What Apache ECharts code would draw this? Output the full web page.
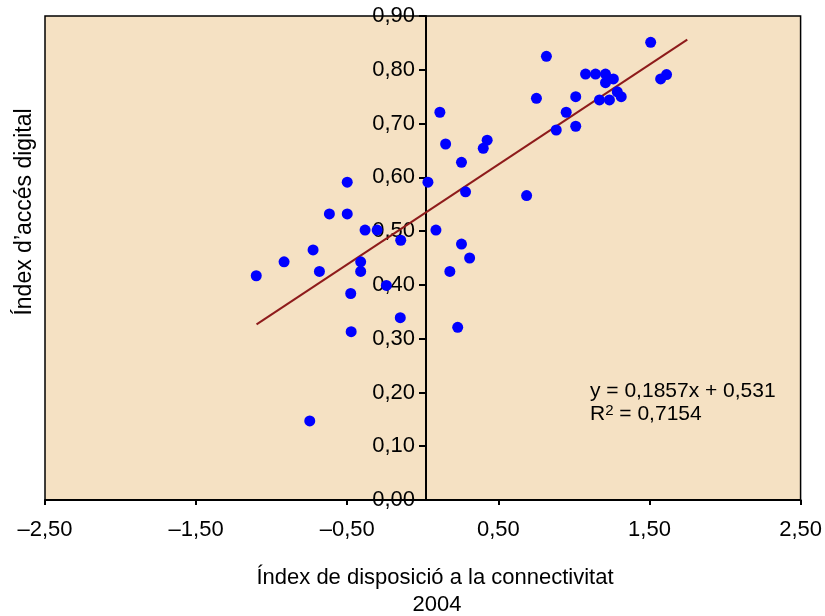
<!DOCTYPE html>
<html><head><meta charset="utf-8">
<script src="https://cdn.jsdelivr.net/npm/echarts@6/dist/echarts.min.js"></script>
<style>html,body{margin:0;padding:0;background:#fff}#c{width:825px;height:616px}</style>
</head><body><div id="c"></div>
<script>
// Data
const xValues = [-1.102,-0.918,-0.726,-0.684,-0.618,-0.500,-0.500,-0.382,-0.302,-0.411,-0.411,-0.477,-0.474,-0.241,-0.146,-0.149,
  0.034,0.087,0.179,0.231,-0.748,0.113,0.151,0.256,0.283,0.400,0.426,0.687,0.752,0.818,0.883,0.949,1.012,1.012,1.077,1.143,
  1.209,1.209,1.261,1.169,1.235,1.287,1.313,1.508,1.574,1.613,0.256,0.310];
const yValues = [0.417,0.443,0.465,0.425,0.532,0.591,0.532,0.502,0.502,0.443,0.425,0.384,0.313,0.399,0.483,0.339,
  0.591,0.502,0.425,0.321,0.147,0.721,0.662,0.628,0.573,0.654,0.669,0.566,0.747,0.825,0.688,0.721,0.695,0.750,0.792,0.792,
  0.792,0.776,0.783,0.744,0.744,0.759,0.750,0.851,0.783,0.791,0.476,0.450];
const trendSlope = 0.1857;
const trendIntercept = 0.531;
const trendXRange = [-1.10, 1.75];
const equationLabel = 'y = 0,1857x + 0,531';
const r2Label = '0,7154';
const xTitle = 'Índex de disposició a la connectivitat';
const yearLabel = '2004';
const yTitle = 'Índex d’accés digital';

const points = xValues.map((x, i) => [x, yValues[i]]);
const trend = trendXRange.map(x => [x, trendSlope * x + trendIntercept]);
const FONT = '"Liberation Sans", Arial, sans-serif';
const fmt = v => (v < 0 ? '–' : '') + Math.abs(v).toFixed(2).replace('.', ',');

const GRID_LEFT = 45, GRID_RIGHT = 18;
const plotWidth = 825 - GRID_LEFT - GRID_RIGHT;
// vertical axis crosses the horizontal axis at x = 0
const yAxisOffset = -(plotWidth * (0 - (-2.5)) / 5);

const chart = echarts.init(document.getElementById('c'), null, {renderer: 'canvas'});
chart.setOption({
  animation: false,
  backgroundColor: '#ffffff',
  textStyle: {fontFamily: FONT},
  grid: {left: GRID_LEFT, right: GRID_RIGHT, top: 16, bottom: 116, show: true,
    backgroundColor: '#F5E1C3', borderColor: '#000', borderWidth: 1.5},
  xAxis: {
    type: 'value', min: -2.5, max: 2.5, interval: 1,
    axisLine: {onZero: false, lineStyle: {color: '#000', width: 2}},
    axisTick: {show: true, inside: false, length: 5, lineStyle: {color: '#000', width: 2}},
    axisLabel: {formatter: fmt, color: '#000', fontSize: 22, fontFamily: FONT, margin: 19},
    splitLine: {show: false}
  },
  yAxis: {
    type: 'value', min: 0, max: 0.9, interval: 0.1, position: 'left', offset: yAxisOffset,
    axisLine: {onZero: false, lineStyle: {color: '#000', width: 2}},
    axisTick: {show: true, inside: false, length: 7, lineStyle: {color: '#000', width: 2}},
    axisLabel: {formatter: fmt, color: '#000', fontSize: 22, fontFamily: FONT, margin: 11},
    splitLine: {show: false}
  },
  series: [
    {type: 'line', data: trend, symbol: 'none', silent: true,
      lineStyle: {color: '#8E1B1B', width: 2}, z: 2},
    {type: 'scatter', data: points, symbol: 'circle', symbolSize: 11,
      itemStyle: {color: '#0000FF', opacity: 1}, z: 3}
  ],
  graphic: [
    {type: 'text', x: 435, y: 578, style: {text: xTitle, font: '22px ' + FONT, fill: '#000', align: 'center', verticalAlign: 'middle'}},
    {type: 'text', x: 437, y: 605, style: {text: yearLabel, font: '22px ' + FONT, fill: '#000', align: 'center', verticalAlign: 'middle'}},
    {type: 'text', x: 25, y: 212, rotation: Math.PI / 2,
      style: {text: yTitle, font: '23px ' + FONT, fill: '#000', align: 'center', verticalAlign: 'middle'}},
    {type: 'text', x: 590, y: 391,
      style: {text: equationLabel, font: '21px ' + FONT, fill: '#000', align: 'left', verticalAlign: 'middle'}},
    {type: 'text', x: 590, y: 414,
      style: {text: '{a|R}{b|2}{a| = ' + r2Label + '}', align: 'left', verticalAlign: 'middle',
        rich: {a: {fontSize: 21, fontFamily: FONT, color: '#000'},
               b: {fontSize: 15, fontFamily: FONT, color: '#000', verticalAlign: 'top', padding: [0, 0, 6, 0]}}}}
  ]
});
</script></body></html>
